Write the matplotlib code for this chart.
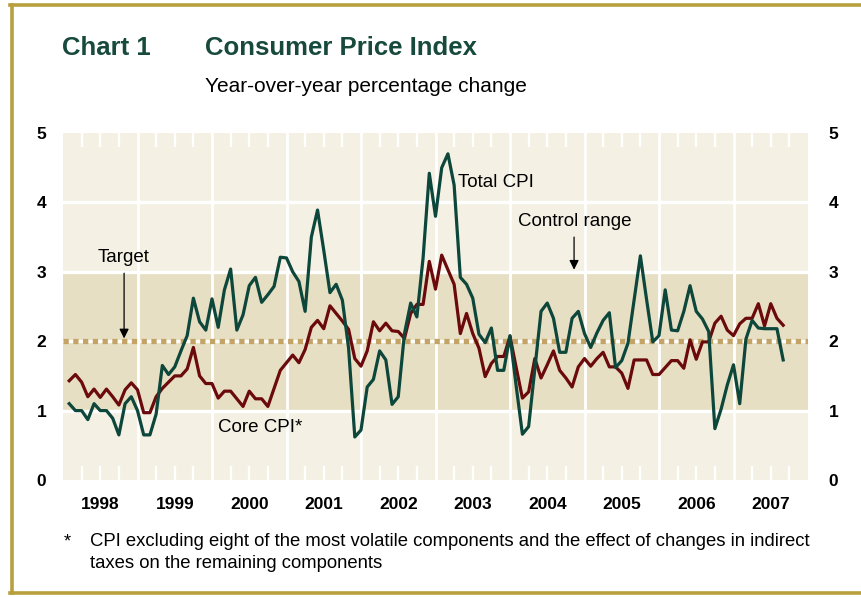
import numpy as np
import pandas as pd
import matplotlib
matplotlib.use('Agg')
import matplotlib.pyplot as plt
from matplotlib.lines import Line2D

plt.rcParams['font.family'] = ['Liberation Sans', 'DejaVu Sans']

# monthly, Jan 1998 - Aug 2007
months = pd.date_range('1998-01-01', periods=116, freq='MS')

total_cpi = [
    1.1, 1.0, 1.0, 0.87, 1.1, 1.0, 1.0, 0.89, 0.65, 1.1, 1.2, 1.0,      # 1998
    0.65, 0.65, 0.95, 1.65, 1.52, 1.63, 1.86, 2.08, 2.62, 2.28, 2.16, 2.61,  # 1999
    2.2, 2.74, 3.04, 2.16, 2.38, 2.8, 2.92, 2.56, 2.67, 2.79, 3.21, 3.2,  # 2000
    3.0, 2.86, 2.43, 3.5, 3.89, 3.31, 2.7, 2.82, 2.59, 1.9, 0.62, 0.72,  # 2001
    1.34, 1.45, 1.86, 1.73, 1.09, 1.2, 2.11, 2.55, 2.35, 3.2, 4.42, 3.8,  # 2002
    4.5, 4.7, 4.25, 2.92, 2.82, 2.62, 2.1, 1.98, 2.19, 1.58, 1.58, 2.08,  # 2003
    1.35, 0.66, 0.77, 1.6, 2.43, 2.55, 2.33, 1.84, 1.84, 2.33, 2.43, 2.11,  # 2004
    1.91, 2.12, 2.3, 2.41, 1.62, 1.72, 1.97, 2.6, 3.23, 2.6, 1.99, 2.08,  # 2005
    2.74, 2.16, 2.15, 2.43, 2.8, 2.43, 2.32, 2.14, 0.74, 1.02, 1.37, 1.66,  # 2006
    1.1, 2.03, 2.3, 2.19, 2.18, 2.18, 2.18, 1.73,                        # 2007
]

core_cpi = [
    1.43, 1.52, 1.41, 1.2, 1.31, 1.19, 1.31, 1.2, 1.08, 1.3, 1.4, 1.3,   # 1998
    0.97, 0.97, 1.2, 1.32, 1.41, 1.5, 1.5, 1.6, 1.91, 1.5, 1.39, 1.39,   # 1999
    1.18, 1.28, 1.28, 1.17, 1.06, 1.28, 1.17, 1.17, 1.06, 1.32, 1.58, 1.69,  # 2000
    1.8, 1.69, 1.88, 2.2, 2.3, 2.18, 2.51, 2.4, 2.29, 2.17, 1.75, 1.64,  # 2001
    1.86, 2.28, 2.15, 2.26, 2.15, 2.14, 2.04, 2.4, 2.53, 2.53, 3.15, 2.75,  # 2002
    3.24, 3.03, 2.82, 2.11, 2.4, 2.11, 1.9, 1.49, 1.68, 1.78, 1.78, 2.07,  # 2003
    1.62, 1.18, 1.27, 1.75, 1.47, 1.66, 1.86, 1.58, 1.47, 1.34, 1.63, 1.75,  # 2004
    1.64, 1.75, 1.84, 1.63, 1.63, 1.54, 1.32, 1.73, 1.73, 1.73, 1.52, 1.52,  # 2005
    1.62, 1.72, 1.72, 1.61, 2.02, 1.74, 1.99, 1.99, 2.26, 2.36, 2.16, 2.08,  # 2006
    2.25, 2.33, 2.33, 2.54, 2.22, 2.54, 2.33, 2.23,                      # 2007
]

years = list(range(1998, 2008))
y_ticks = [0, 1, 2, 3, 4, 5]

title_green = '#174a3c'
total_col = '#0d463a'
core_col = '#6b0a0c'
bg_light = '#f4f1e4'
bg_band = '#e7dfc3'
target_col = '#c3a366'
frame_col = '#b8a03e'

# decimal year, points sit at month end
x = months.year + months.month / 12.0

fig = plt.figure(figsize=(8.61, 5.97), dpi=100)

# gold frame (left, top, bottom)
fig.add_artist(Line2D([11.5 / 861, 11.5 / 861], [1 - 5 / 597, 1 - 593 / 597],
                      transform=fig.transFigure, color=frame_col, lw=2.6))
fig.add_artist(Line2D([10 / 861, 1], [1 - 5 / 597, 1 - 5 / 597],
                      transform=fig.transFigure, color=frame_col, lw=2.6))
fig.add_artist(Line2D([10 / 861, 1], [1 - 593 / 597, 1 - 593 / 597],
                      transform=fig.transFigure, color=frame_col, lw=2.6))

ax = fig.add_axes([63 / 861, 1 - 480 / 597, (808 - 63) / 861, (480 - 133) / 597])
ax.set_facecolor(bg_light)
ax.axhspan(1, 3, color=bg_band, zorder=0, lw=0)

for v in [1, 2, 3, 4]:
    ax.axhline(v, color='white', lw=2.4, zorder=1)
for yr in years[1:]:
    ax.axvline(yr, color='white', lw=2.0, zorder=1)

ax.axhline(2, color=target_col, lw=3.8, dashes=(1.0, 0.85), zorder=1.5,
           solid_capstyle='butt', dash_capstyle='butt')

ax.plot(x, core_cpi, color=core_col, lw=2.3, zorder=3)
ax.plot(x, total_cpi, color=total_col, lw=2.3, zorder=4)

ax.set_xlim(1998, 2008)
ax.set_ylim(0, 5)
for s in ax.spines.values():
    s.set_visible(False)

# quarterly white ticks, year labels in the middle of each year
quarters = [yr + q / 4 for yr in years for q in (1, 2, 3)]
ax.set_xticks(quarters)
ax.set_xticklabels([])
ax.tick_params(axis='x', which='major', direction='in', color='white',
               length=10, width=1.6, top=True, bottom=True)
ax.set_xticks([yr + 0.5 for yr in years], minor=True)
ax.xaxis.remove_overlapping_locs = False
ax.set_xticklabels([str(yr) for yr in years], minor=True,
                   fontsize=12.5, fontweight='bold')
ax.tick_params(axis='x', which='minor', length=0, pad=12)

ax.set_yticks(y_ticks)
ax.set_yticklabels([str(v) for v in y_ticks], fontsize=12.5, fontweight='bold')
ax.tick_params(axis='y', length=0, left=False, right=False, pad=12)

# right-hand labels
ax_r = ax.twinx()
ax_r.set_ylim(0, 5)
ax_r.set_yticks(y_ticks)
ax_r.set_yticklabels([str(v) for v in y_ticks], fontsize=12.5, fontweight='bold')
ax_r.tick_params(axis='y', length=0, pad=15)
for s in ax_r.spines.values():
    s.set_visible(False)

# annotations
arrow = dict(arrowstyle='-|>', color='black', lw=0.9, mutation_scale=14,
             shrinkA=0, shrinkB=0)
ax.text(1998.81, 3.2, 'Target', fontsize=13.5, ha='center', va='center')
ax.annotate('', xy=(1998.82, 2.04), xytext=(1998.82, 2.98), arrowprops=arrow)
ax.text(2003.3, 4.28, 'Total CPI', fontsize=13.5, ha='left', va='center')
ax.text(2004.11, 3.72, 'Control range', fontsize=13.5, ha='left', va='center')
ax.annotate('', xy=(2004.86, 3.03), xytext=(2004.86, 3.5), arrowprops=arrow)
ax.text(2000.08, 0.76, 'Core CPI*', fontsize=13.5, ha='left', va='center')

# titles
fig.text(62 / 861, 1 - 48 / 597, 'Chart 1', fontsize=18.5, fontweight='bold',
         color=title_green, va='center')
fig.text(205 / 861, 1 - 48 / 597, 'Consumer Price Index', fontsize=18.5,
         fontweight='bold', color=title_green, va='center')
fig.text(205 / 861, 1 - 86 / 597, 'Year-over-year percentage change',
         fontsize=15, va='center')

# footnote
fig.text(64 / 861, 1 - 542 / 597, '*', fontsize=13.3, va='center')
fig.text(90 / 861, 1 - 542 / 597,
         'CPI excluding eight of the most volatile components and the effect of changes in indirect',
         fontsize=13.3, va='center')
fig.text(90 / 861, 1 - 564 / 597, 'taxes on the remaining components',
         fontsize=13.3, va='center')

fig.savefig('out.png', dpi=100, facecolor='white')
